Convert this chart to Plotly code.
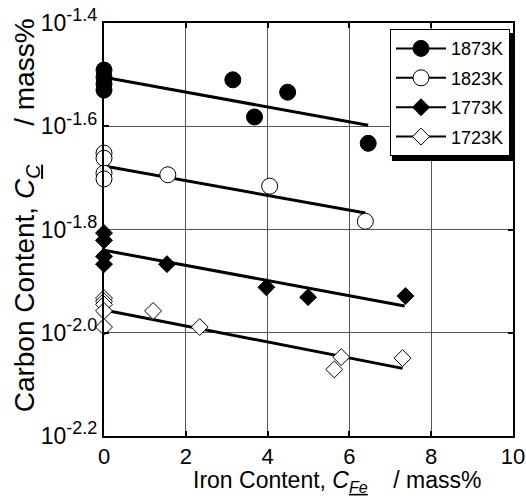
import plotly.graph_objects as go

# Carbon content (mass%) against iron content (mass%) at four temperatures
temps = ["1873K", "1823K", "1773K", "1723K"]

fe_1873 = [0, 0, 0, 0, 3.15, 4.49, 3.68, 6.46]
c_1873 = [0.03228, 0.03126, 0.03034, 0.02951, 0.03090, 0.02924, 0.02618, 0.02328]

fe_1823 = [0, 0, 0, 0, 1.56, 4.05, 6.39]
c_1823 = [0.02228, 0.02178, 0.02037, 0.01986, 0.02023, 0.01923, 0.01644]

fe_1773 = [0, 0, 0, 0, 1.54, 3.97, 4.99, 7.37]
c_1773 = [0.01560, 0.01510, 0.01406, 0.01358, 0.01358, 0.01225, 0.01172, 0.01178]

fe_1723 = [0, 0, 0, 0, 0, 1.2, 2.34, 5.8, 5.63, 7.3]
c_1723 = [0.01167, 0.01151, 0.01135, 0.01102, 0.01026, 0.01102, 0.01026, 0.00897, 0.00849, 0.00893]

# Regression lines: end points (iron content, carbon content)
fit_fe = [[0, 6.46], [0, 6.39], [0, 7.35], [0, 7.3]]
fit_c = [[0.03126, 0.02523], [0.02104, 0.01706], [0.01445, 0.01127], [0.01107, 0.00853]]

y_tick_exp = [-2.2, -2.0, -1.8, -1.6, -1.4]
x_ticks = [0, 2, 4, 6, 8, 10]

series_fe = [fe_1873, fe_1823, fe_1773, fe_1723]
series_c = [c_1873, c_1823, c_1773, c_1723]
symbols = ["circle", "circle", "diamond", "diamond"]
fills = ["black", "white", "black", "white"]
sizes = [16, 16, 13, 13]

font = "Liberation Sans, Arial, sans-serif"
fig = go.Figure()

# fitted lines
for i in range(len(temps)):
    fig.add_trace(go.Scatter(
        x=fit_fe[i], y=fit_c[i], mode="lines",
        line=dict(color="black", width=3),
        showlegend=False, hoverinfo="skip",
    ))

# measured points
for i, name in enumerate(temps):
    fig.add_trace(go.Scatter(
        x=series_fe[i], y=series_c[i], mode="markers", name=name,
        marker=dict(symbol=symbols[i], size=sizes[i], color=fills[i],
                    line=dict(color="black", width=1)),
        cliponaxis=False, showlegend=False,
    ))

# legend samples: line through the marker
for i, name in enumerate(temps):
    fig.add_trace(go.Scatter(
        x=[None], y=[None], mode="lines+markers", name=name,
        legendgroup=name,
        line=dict(color="black", width=2),
        marker=dict(symbol=symbols[i], size=sizes[i], color=fills[i],
                    line=dict(color="black", width=1)),
    ))

# drop shadow behind the legend box
fig.add_shape(type="rect", xref="paper", yref="paper",
              x0=0.704, x1=1.003, y0=0.666, y1=0.976,
              fillcolor="black", line=dict(width=0), layer="above")

fig.update_layout(
    width=526, height=499,
    margin=dict(l=104, r=13, t=23, b=63),
    paper_bgcolor="white", plot_bgcolor="white",
    font=dict(family=font, size=20, color="black"),
    showlegend=True,
    legend=dict(
        x=0.9927, y=0.985, xanchor="right", yanchor="top",
        bgcolor="white", bordercolor="black", borderwidth=1,
        font=dict(size=18, family=font), itemwidth=50,
        tracegroupgap=3,
    ),
    xaxis=dict(
        range=[0, 10], tickvals=x_ticks, ticktext=[str(v) for v in x_ticks],
        tickfont=dict(size=22), automargin=False,
        showgrid=True, gridcolor="#555555", gridwidth=0.6,
        showline=True, linecolor="black", linewidth=2, mirror="ticks",
        ticks="inside", ticklen=5, tickwidth=2, tickcolor="black",
        zeroline=False,
    ),
    yaxis=dict(
        type="log", range=[-2.2, -1.4],
        tickvals=[10 ** e for e in y_tick_exp],
        ticktext=["10<sup><span style='font-size:18px'>%.1f</span></sup>" % e
                  for e in y_tick_exp],
        tickfont=dict(size=23), automargin=False,
        showgrid=True, gridcolor="#555555", gridwidth=0.6,
        showline=True, linecolor="black", linewidth=2, mirror="ticks",
        ticks="inside", ticklen=5, tickwidth=2, tickcolor="black",
        zeroline=False,
    ),
    annotations=[
        dict(text="Iron Content, <i>C</i><sub><i><span style='text-decoration:underline'>Fe</span></i></sub>\u00a0\u00a0\u00a0\u00a0/ mass%",
             xref="paper", yref="paper", x=0.572, y=-0.111,
             xanchor="center", yanchor="middle", showarrow=False,
             font=dict(size=23, family=font)),
        dict(text="Carbon Content, <i>C</i><sub><i><span style='text-decoration:underline'>C</span></i></sub>\u00a0\u00a0\u00a0\u00a0\u00a0/ mass%",
             xref="paper", yref="paper", x=-0.19, y=0.535, textangle=-90,
             xanchor="center", yanchor="middle", showarrow=False,
             font=dict(size=28, family=font)),
    ],
)

fig.write_html("out.html")
